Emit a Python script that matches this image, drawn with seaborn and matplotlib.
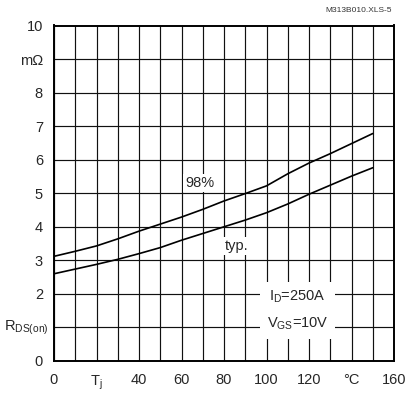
import matplotlib
matplotlib.use("Agg")
import matplotlib.pyplot as plt
import seaborn as sns
import pandas as pd

# ---- data ----
temps = [0, 10, 20, 30, 40, 50, 60, 70, 80, 90, 100, 110, 120, 130, 140, 150]
r_98 = [3.12, 3.27, 3.43, 3.64, 3.87, 4.08, 4.29, 4.52, 4.77, 4.99, 5.22, 5.58, 5.90, 6.18, 6.48, 6.78]
r_typ = [2.60, 2.74, 2.88, 3.03, 3.20, 3.38, 3.60, 3.80, 4.00, 4.20, 4.42, 4.68, 4.97, 5.24, 5.51, 5.76]

x_ticks = [0, 20, 40, 60, 80, 100, 120, 140, 160]
x_labels = ["0", r"T$_\mathregular{j}$", "40", "60", "80", "100", "120", "°C", "160"]
y_ticks = list(range(0, 11))
y_labels = ["0", "", "2", "3", "4", "5", "6", "7", "8", "mΩ", "10"]
y_name = r"R$_\mathregular{DS(on)}$"

df = pd.DataFrame({
    "T": temps * 2,
    "R": r_98 + r_typ,
    "curve": ["98%"] * len(temps) + ["typ."] * len(temps),
})

sns.set_style("white")
plt.rcParams["font.family"] = ["Liberation Sans", "DejaVu Sans"]
plt.rcParams["mathtext.fontset"] = "custom"
plt.rcParams["mathtext.rm"] = "Liberation Sans"
plt.rcParams["mathtext.it"] = "Liberation Sans"

fig = plt.figure(figsize=(4.08, 3.93), dpi=100)
ax = fig.add_axes([54 / 408, 1 - 361 / 393, 340 / 408, 335.5 / 393])

sns.lineplot(data=df, x="T", y="R", units="curve", estimator=None,
             color="black", linewidth=1.2, ax=ax, legend=False, zorder=3)

ax.set_xlim(0, 160)
ax.set_ylim(0, 10)
ax.set_xticks(x_ticks)
ax.set_xticklabels(x_labels)
ax.set_xticks(range(10, 161, 20), minor=True)
ax.set_yticks(y_ticks)
ax.set_yticklabels(y_labels)
ax.tick_params(axis="both", which="both", length=0, labelsize=10.5)
ax.tick_params(axis="y", pad=8)
ax.tick_params(axis="x", pad=9)

ax.grid(True, which="both", axis="x", color="#111111", linewidth=0.85)
ax.grid(True, which="major", axis="y", color="#111111", linewidth=0.85)
ax.set_axisbelow(True)
for s in ax.spines.values():
    s.set_visible(True)
    s.set_color("black")
    s.set_linewidth(1.4)
ax.set_xlabel("")
ax.set_ylabel("")

# y-axis quantity label in place of the "1" tick label
ax.text(-2.5, 1.0, y_name, fontsize=10.5, ha="right", va="center")

ax.text(68.5, 5.3, "98%", fontsize=10.5, ha="center", va="center", zorder=4,
        bbox=dict(facecolor="white", edgecolor="none", pad=1.5))
ax.text(86, 3.42, "typ.", fontsize=10.5, ha="center", va="center", zorder=4,
        bbox=dict(facecolor="white", edgecolor="none", pad=1.5))
ax.text(114.5, 1.5, r"I$_\mathregular{D}$=250A" + "\n" + r"V$_\mathregular{GS}$=10V",
        fontsize=10.5, ha="center", va="center", linespacing=1.9, zorder=4,
        bbox=dict(facecolor="white", edgecolor="none", pad=5))

fig.text(392 / 408, 1 - 11 / 393, "M313B010.XLS-5", fontsize=6, ha="right",
         va="center", color="#333333")

fig.savefig("out.png", dpi=100)
